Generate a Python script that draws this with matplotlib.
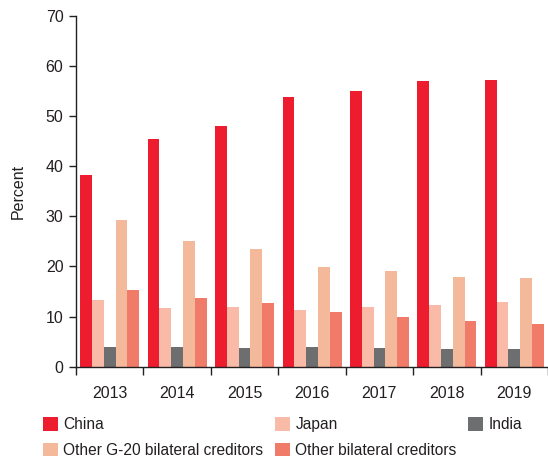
import numpy as np
import matplotlib
matplotlib.use("Agg")
import matplotlib.pyplot as plt
from matplotlib.patches import Patch

plt.rcParams["font.family"] = ["Liberation Sans", "DejaVu Sans"]

# values (percent)
years = ["2013", "2014", "2015", "2016", "2017", "2018", "2019"]
china = [38.2, 45.5, 48.0, 53.8, 55.0, 57.0, 57.2]
japan = [13.4, 11.8, 11.9, 11.3, 11.9, 12.4, 12.9]
india = [3.9, 3.9, 3.7, 3.9, 3.7, 3.6, 3.6]
other_g20 = [29.2, 25.0, 23.5, 19.9, 19.1, 17.8, 17.6]
other_bilateral = [15.2, 13.8, 12.7, 11.0, 10.0, 9.2, 8.6]

series = [
    ("China", china, "#ED1C2E"),
    ("Japan", japan, "#F9BBA7"),
    ("India", india, "#6D6E70"),
    ("Other G-20 bilateral creditors", other_g20, "#F4B89A"),
    ("Other bilateral creditors", other_bilateral, "#F07B68"),
]

fs = 11.5
fig = plt.figure(figsize=(5.48, 4.58), dpi=100)
ax = fig.add_axes([76 / 548, 1 - 366.7 / 458, 472 / 548, (366.7 - 15.7) / 458])

x = np.arange(len(years))
w = 0.175
for i, (name, vals, col) in enumerate(series):
    ax.bar(x + (i - 2) * w, vals, width=w, color=col, linewidth=0)

ax.set_xlim(-0.5, len(years) - 0.5)
ax.set_ylim(0, 70)
ax.set_yticks(range(0, 71, 10))
ax.set_xticks(x)
ax.set_xticklabels(years)
ax.set_xticks(np.arange(len(years) + 1) - 0.5, minor=True)
ax.tick_params(axis="x", which="major", length=0, pad=14, labelsize=fs, colors="#231F20")
ax.tick_params(axis="x", which="minor", length=6, width=1, color="#231F20")
ax.tick_params(axis="y", length=5, width=1, labelsize=fs, pad=4, colors="#231F20")
for s in ["top", "right"]:
    ax.spines[s].set_visible(False)
for s in ["left", "bottom"]:
    ax.spines[s].set_color("#231F20")
    ax.spines[s].set_linewidth(1)
ax.set_ylabel("Percent", fontsize=fs, color="#231F20", labelpad=14)

# legend is filled column by column
handles = {name: Patch(facecolor=col, edgecolor="none") for name, _, col in series}
order = ["China", "Other G-20 bilateral creditors", "Japan", "Other bilateral creditors", "India"]
fig.legend([handles[n] for n in order], order, ncol=3, frameon=False,
           loc="upper left", bbox_to_anchor=(43 / 548, 1 - 417 / 458),
           borderpad=0, borderaxespad=0, handlelength=0.96, handleheight=0.96,
           handletextpad=0.35, columnspacing=0.75, labelspacing=0.68,
           fontsize=11.2, labelcolor="#231F20")

fig.savefig("out.png", dpi=100)
